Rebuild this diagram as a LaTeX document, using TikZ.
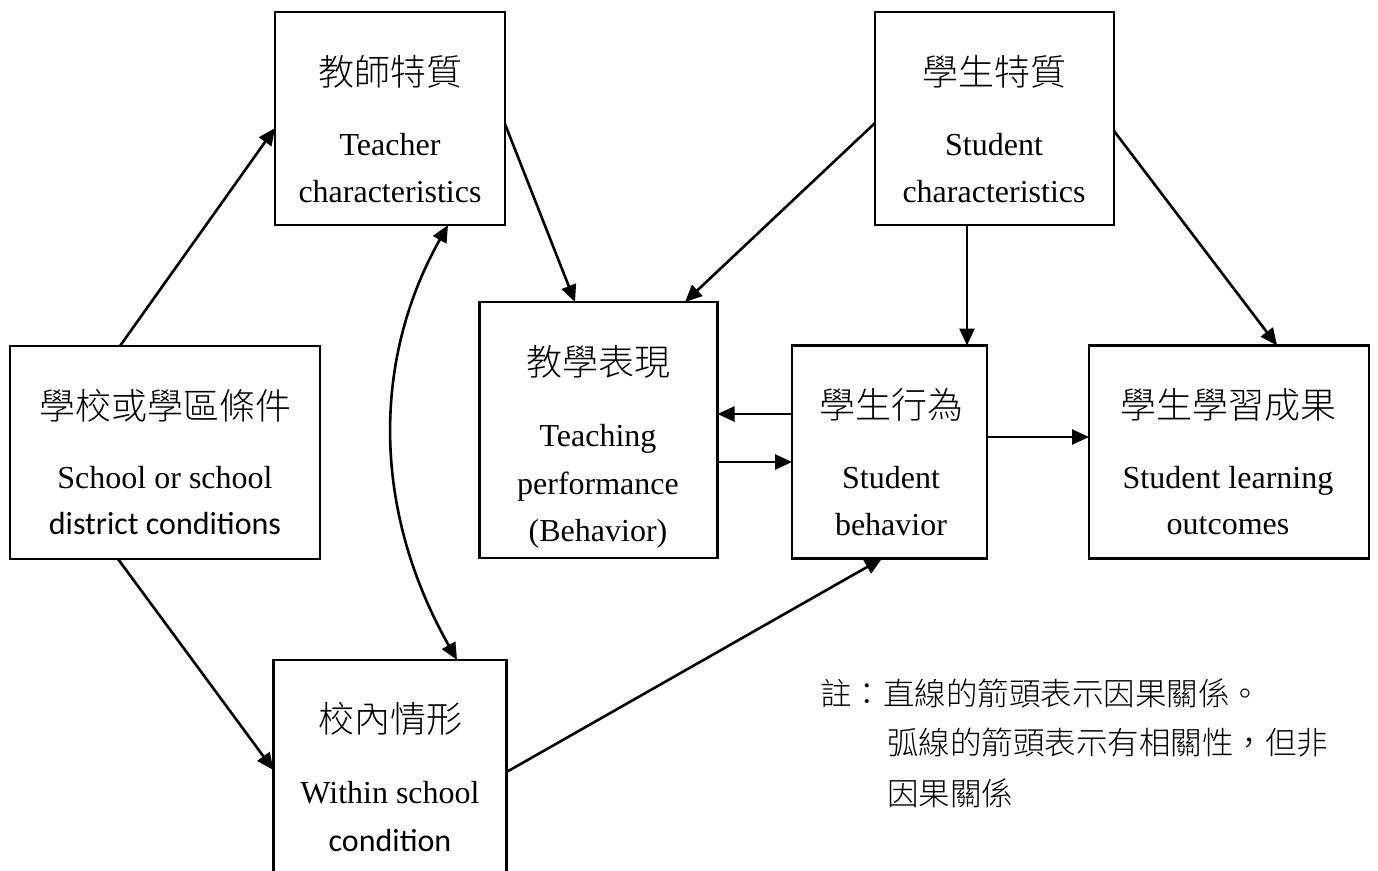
\documentclass[tikz,border=0pt]{standalone}
\usepackage{fontspec}
\setmainfont{Liberation Serif}
\newfontfamily\cjk{Noto Sans CJK TC}[UprightFont={* Light}]
\newfontfamily\carl{Carlito}
\usetikzlibrary{arrows.meta}
\tikzset{
 box/.style={draw, line width=2.2pt, outer sep=0pt, inner sep=0pt},
 zh/.style={font=\cjk\fontsize{36}{36}\selectfont, inner sep=0pt, anchor=center},
 en/.style={font=\fontsize{32}{32}\selectfont, inner sep=0pt, anchor=base},
 ca/.style={font=\carl\fontsize{32}{32}\selectfont, inner sep=0pt, anchor=base},
 nt/.style={font=\cjk\fontsize{31.5}{31.5}\selectfont, inner sep=0pt, anchor=west},
 arr/.style={line width=2.6pt, -{Triangle[length=17pt,width=15pt]}},
 arrtwo/.style={line width=2.6pt, {Triangle[length=17pt,width=15pt]}-{Triangle[length=17pt,width=15pt]}},
}
\begin{document}
\begin{tikzpicture}[x=1pt,y=-1pt]
\useasboundingbox (0,0) rectangle (1378,870);
\clip (0,0) rectangle (1378,870);
\fill[white] (0,0) rectangle (1378,870);
% boxes
\node[box, minimum width=230pt, minimum height=213pt] (T) at (390,118.5) {};
\node[box, minimum width=239pt, minimum height=213pt] (SC) at (994.5,118.5) {};
\node[box, minimum width=310pt, minimum height=213pt] (S) at (165,452.5) {};
\node[box, minimum width=238pt, minimum height=256pt] (TP) at (598.5,430) {};
\node[box, minimum width=195pt, minimum height=213pt] (SB) at (889.5,452) {};
\node[box, minimum width=280pt, minimum height=213pt] (SLO) at (1229,452) {};
\node[box, minimum width=233pt, minimum height=260pt] (W) at (390,790) {};
% texts
\node[zh] (Tzh) at (390,72) {教師特質};
\node[en] (Ten1) at (390,155) {Teacher};
\node[en] (Ten2) at (390,202) {characteristics};
\node[zh] (SCzh) at (994,72) {學生特質};
\node[en] (SCen1) at (994,155) {Student};
\node[en] (SCen2) at (994,202) {characteristics};
\node[zh] (Szh) at (165,406) {學校或學區條件};
\node[en] (Sen1) at (165,488) {School or school};
\node[ca] (Sen2) at (165,534) {district conditions};
\node[zh] (TPzh) at (598,362) {教學表現};
\node[en] (TPen1) at (598,446) {Teaching};
\node[en] (TPen2) at (598,494) {performance};
\node[en] (TPen3) at (598,541) {(Behavior)};
\node[zh] (SBzh) at (891,405) {學生行為};
\node[en] (SBen1) at (891,488) {Student};
\node[en] (SBen2) at (891,535) {behavior};
\node[zh] (SLOzh) at (1228,405) {學生學習成果};
\node[en] (SLOen1) at (1228,488) {Student learning};
\node[en] (SLOen2) at (1228,534) {outcomes};
\node[zh] (Wzh) at (390,719) {校內情形};
\node[en] (Wen1) at (390,803) {Within school};
\node[ca] (Wen2) at (390,851) {condition};
% note
\node[nt] (n1) at (820,693) {註：直線的箭頭表示因果關係。};
\node[nt] (n2) at (887,743) {弧線的箭頭表示有相關性，但非};
\node[nt] (n3) at (887,793) {因果關係};
% arrows
\draw[arr] (S.north -| 120,0) -- (T.west |- 0,128);
\draw[arr] (S.south -| 118,0) -- (W.west |- 0,770);
\draw[arr] (T.east |- 0,124) -- (TP.north -| 575,0);
\draw[arr] (SC.west |- 0,123) -- (TP.north -| 685,0);
\draw[arr] (SC.south -| 967,0) -- (SB.north -| 967,0);
\draw[arr] (SC.east |- 0,131) -- (SLO.north -| 1277,0);
\draw[arr] (SB.west |- 0,414) -- (TP.east |- 0,414);
\draw[arr] (TP.east |- 0,462) -- (SB.west |- 0,462);
\draw[arr] (SB.east |- 0,437) -- (SLO.west |- 0,437);
\draw[arr] (W.east |- 0,772) -- (SB.south -| 882,0);
\draw[arrtwo] (T.south -| 448,0) .. controls (372,360) and (372,510) .. (W.north -| 457,0);
\end{tikzpicture}
\end{document}
